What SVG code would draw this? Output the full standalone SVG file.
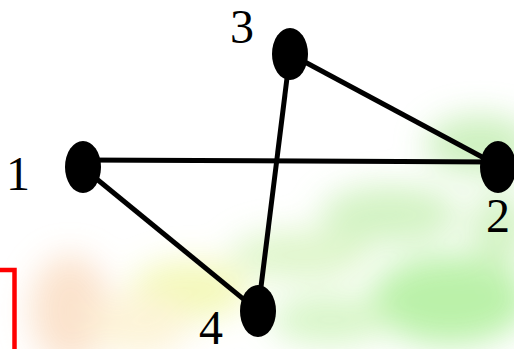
<svg xmlns="http://www.w3.org/2000/svg" width="514" height="349" viewBox="0 0 514 349">
<defs>
<filter id="blur" x="-50%" y="-50%" width="200%" height="200%"><feGaussianBlur stdDeviation="16"/></filter>
<style>
.edge{stroke:#000;stroke-width:5;fill:none}
.node{fill:#000}
.lbl{font-family:"Liberation Serif","Times New Roman",serif;font-size:48px;fill:#000;text-anchor:middle}
</style>
</defs>
<rect width="514" height="349" fill="#ffffff"/>
<g id="background" filter="url(#blur)" opacity="0.9">
<ellipse cx="70" cy="310" rx="40" ry="55" fill="#fbe0c8"/>
<ellipse cx="190" cy="290" rx="60" ry="30" fill="#f3f8b4"/>
<ellipse cx="140" cy="325" rx="50" ry="30" fill="#fdf3d4"/>
<ellipse cx="300" cy="255" rx="70" ry="25" fill="#dcf5c6"/>
<ellipse cx="390" cy="215" rx="70" ry="30" fill="#cff2be"/>
<ellipse cx="480" cy="145" rx="55" ry="30" fill="#c8efb8"/>
<ellipse cx="450" cy="300" rx="80" ry="45" fill="#b4f0a0"/>
<ellipse cx="330" cy="320" rx="60" ry="25" fill="#d4f5c2"/>
<ellipse cx="500" cy="230" rx="30" ry="40" fill="#d0f2c0"/>
</g>
<path id="bracket" d="M0,270 H14.5 V349" stroke="#ff0000" stroke-width="4.5" fill="none"/>
<g id="connectors">
<line class="edge" x1="82" y1="160" x2="497" y2="162"/>
<line class="edge" x1="290" y1="54" x2="497" y2="165"/>
<line class="edge" x1="290" y1="54" x2="258" y2="311"/>
<line class="edge" x1="82" y1="167" x2="258" y2="311"/>
</g>
<g id="node1"><ellipse class="node" cx="83" cy="167" rx="18" ry="26"/><text class="lbl" x="18" y="190">1</text></g>
<g id="node2"><ellipse class="node" cx="498" cy="167" rx="18" ry="26"/><text class="lbl" x="498" y="232">2</text></g>
<g id="node3"><ellipse class="node" cx="290" cy="54" rx="18" ry="26"/><text class="lbl" x="242" y="43">3</text></g>
<g id="node4"><ellipse class="node" cx="258" cy="311" rx="18" ry="26"/><text class="lbl" x="211" y="344">4</text></g>
</svg>
